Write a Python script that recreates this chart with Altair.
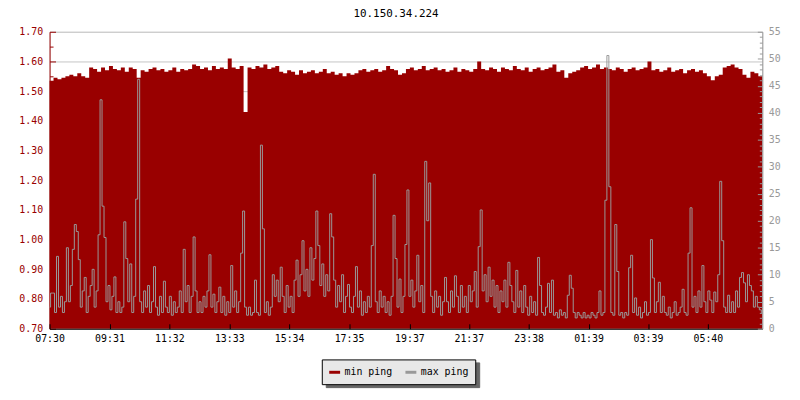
import altair as alt
import pandas as pd

title_text = "10.150.34.224"
span_minutes = 1440
x_tick_minutes = [0, 121, 242, 363, 484, 605, 727, 847, 968, 1089, 1209, 1330]
x_tick_labels = ["07:30", "09:31", "11:32", "13:33", "15:34", "17:35",
                 "19:37", "21:37", "23:38", "01:39", "03:39", "05:40"]
series_names = ["min ping", "max ping"]
series_colors = ["#990000", "#999999"]
left_ticks = [round(0.70 + 0.05 * k, 2) for k in range(21)]
right_ticks = list(range(0, 56))

min_ping = [
    1.535, 1.545, 1.54, 1.545, 1.55, 1.555, 1.55, 1.56, 1.55, 1.545,
    1.58, 1.575, 1.565, 1.58, 1.57, 1.585, 1.575, 1.57, 1.58, 1.565,
    1.58, 1.575, 1.545, 1.57, 1.565, 1.575, 1.58, 1.57, 1.575, 1.565,
    1.57, 1.58, 1.565, 1.575, 1.57, 1.575, 1.59, 1.585, 1.575, 1.58,
    1.57, 1.585, 1.575, 1.58, 1.575, 1.61, 1.58, 1.575, 1.585, 1.43,
    1.58, 1.575, 1.585, 1.58, 1.59, 1.575, 1.58, 1.585, 1.565, 1.56,
    1.57, 1.565, 1.555, 1.57, 1.56, 1.565, 1.57, 1.56, 1.565, 1.575,
    1.56, 1.565, 1.555, 1.56, 1.55, 1.56, 1.555, 1.56, 1.57, 1.575,
    1.565, 1.57, 1.575, 1.565, 1.57, 1.585, 1.575, 1.57, 1.555, 1.56,
    1.575, 1.58, 1.57, 1.575, 1.585, 1.57, 1.575, 1.58, 1.57, 1.575,
    1.565, 1.57, 1.58, 1.565, 1.575, 1.57, 1.565, 1.575, 1.60, 1.575,
    1.57, 1.58, 1.575, 1.565, 1.58, 1.575, 1.57, 1.585, 1.575, 1.57,
    1.58, 1.565, 1.575, 1.58, 1.57, 1.575, 1.58, 1.59, 1.565, 1.57,
    1.545, 1.56, 1.565, 1.57, 1.58, 1.585, 1.575, 1.58, 1.59, 1.575,
    1.58, 1.575, 1.57, 1.58, 1.575, 1.565, 1.575, 1.58, 1.57, 1.575,
    1.58, 1.60, 1.57, 1.575, 1.565, 1.57, 1.58, 1.565, 1.57, 1.575,
    1.56, 1.57, 1.575, 1.565, 1.57, 1.56, 1.55, 1.537, 1.55, 1.555,
    1.58, 1.585, 1.59, 1.58, 1.575, 1.555, 1.545, 1.565, 1.56, 1.55,
    1.545,
]

max_ping = [
    4, 6.6, 6.6, 3, 13.4, 4, 6, 3, 5, 15,
    5, 8, 14.7, 19.3, 18, 12.8, 4, 7, 9.5, 3,
    6, 8, 11, 4, 7, 17.4, 42.4, 22.7, 16.9, 5,
    8, 3.5, 6, 9.6, 3, 5, 3, 4, 19.8, 13,
    5, 12, 3, 6, 24, 46.2, 5, 3, 7, 4,
    8, 3, 5, 11.5, 4, 2.5, 6, 3, 8.8, 4,
    3, 6, 2.5, 5, 3, 4, 7, 3, 14.7, 5,
    8, 3, 6, 17, 7, 3, 5, 3, 6, 4,
    7, 13.7, 4, 6.4, 3, 5, 7.7, 3, 6, 2.5,
    5, 3, 11.7, 4, 7, 3, 5, 14, 21.8, 4,
    2.5, 4, 2.5, 3, 9, 3, 2.5, 34, 18.5, 3,
    5, 2.5, 4, 10, 6, 9, 5, 11.4, 6, 3,
    8, 4, 6, 3, 9, 12.7, 6, 10, 16.3, 7,
    11, 6, 15, 9, 13, 21.8, 15.4, 8, 12, 6,
    10, 7, 21.3, 17, 9, 4, 8, 5, 10, 3,
    6, 8.2, 4, 3, 6, 11.5, 4, 7, 2.5, 5,
    3, 6, 4, 15.4, 28.6, 5, 3, 7, 4, 6,
    3, 5, 2.5, 6, 21, 13, 4, 9.2, 3, 6,
    15.6, 25.7, 6, 9, 4, 7, 13.6, 5, 8, 3,
    31, 20, 27, 6, 3, 7, 4, 6, 2.5, 5,
    9.5, 5, 3, 7, 4, 9.8, 6, 3, 8, 4,
    6, 3, 8, 5, 7, 10.6, 4, 15.2, 22, 7,
    10, 5, 11.4, 6, 9, 4, 8, 3, 7, 5,
    9, 4, 12.3, 8, 5, 3, 10.8, 4, 7, 3,
    8, 4, 2.5, 6, 3, 5, 2.5, 13.2, 8, 3,
    2.5, 4, 8.4, 3, 9, 2.5, 3, 2, 3.5, 2.5,
    3, 2, 6.2, 9.9, 7.5, 3, 2, 3, 2.5, 2,
    3, 2, 2.5, 2, 3, 2.5, 2, 3, 7, 2.5,
    3, 23.8, 50.6, 26.3, 3, 2.5, 19.3, 10.6, 2.5, 3,
    2, 3, 2.5, 11.3, 13.6, 3, 5.7, 2.5, 4, 2,
    3, 5, 2.5, 3, 16.5, 9.4, 3, 5, 8.6, 3,
    6, 3, 2.5, 4, 2, 3, 5, 2.5, 3, 4,
    7.3, 3, 2.5, 14, 22.4, 4, 6, 3, 7, 4,
    11.7, 5, 3, 7, 5.3, 3, 6.8, 5, 10, 27.3,
    16.3, 4, 3, 6.2, 3, 5, 3, 7, 4, 9.5,
    10.4, 8.5, 5, 10, 8, 7, 4, 6, 4, 3.5,
    3,
]

FONT = "DejaVu Sans Mono"

df_min = pd.DataFrame({
    "t": [i * span_minutes / (len(min_ping) - 1) for i in range(len(min_ping))],
    "v": min_ping,
})
df_max = pd.DataFrame({
    "t": [i * span_minutes / (len(max_ping) - 1) for i in range(len(max_ping))],
    "v": max_ping,
})
df_leg = pd.DataFrame({"t": [0, 0], "v": [1, 1], "series": series_names})
df_shadow = pd.DataFrame({"t": [0, 0], "v": [1, 1], "shadow": series_names})

x_label_expr = ("[" + ",".join("'%s'" % s for s in x_tick_labels) + "][indexof(["
                + ",".join(str(m) for m in x_tick_minutes) + "], datum.value)]")

x_enc = alt.X(
    "t:Q",
    scale=alt.Scale(domain=[0, span_minutes], nice=False, zero=False),
    axis=alt.Axis(
        values=x_tick_minutes, labelExpr=x_label_expr, title=None, grid=False,
        tickSize={"expr": "-5"}, tickColor="#000000", domainColor="#000000",
        labelColor="#000000", labelPadding=10, labelFlush=False,
        labelOverlap=False, zindex=1, labelFont=FONT, labelFontSize=10,
    ),
)

major_left = "round(datum.value * 100) % 10 == 0"
left_axis = alt.Axis(
    orient="left", values=left_ticks, title=None,
    labelExpr="%s ? format(datum.value, '.2f') : ''" % major_left,
    tickSize={"condition": {"test": major_left, "value": -6}, "value": -3.5},
    gridOpacity={"condition": {"test": major_left, "value": 1}, "value": 0},
    grid=True, gridColor="#c4c4c4",
    domainColor="#990000", tickColor="#990000", labelColor="#990000",
    labelPadding=13, labelOverlap=False, labelFlush=False, labelBound=False,
    zindex=0, labelFont=FONT, labelFontSize=10,
)

major_right = "datum.value % 5 == 0"
right_axis = alt.Axis(
    orient="right", values=right_ticks, title=None, grid=False,
    labelExpr="%s ? '' + datum.value : ''" % major_right,
    tickSize={"condition": {"test": major_right, "value": -5}, "value": -3},
    domainColor="#999999", tickColor="#999999", labelColor="#999999",
    labelPadding=11, labelOverlap=False, labelFlush=False, labelBound=False,
    zindex=1, labelFont=FONT, labelFontSize=10,
)

area = alt.Chart(df_min).mark_area(
    interpolate="step-after", color=series_colors[0]
).encode(
    x=x_enc,
    y=alt.Y("v:Q", scale=alt.Scale(domain=[0.7, 1.7], nice=False, zero=False, clamp=True),
            axis=left_axis),
    y2=alt.datum(0.7),
)

line = alt.Chart(df_max).mark_line(
    color=series_colors[1], strokeWidth=1, interpolate="step"
).encode(
    x=alt.X("t:Q"),
    y=alt.Y("v:Q", scale=alt.Scale(domain=[0, 55], nice=False, zero=True, clamp=True),
            axis=right_axis),
)

legend_common = dict(
    title=None, orient="none", direction="horizontal", padding=6,
    cornerRadius=0, symbolType="stroke", symbolSize=121, symbolStrokeWidth=3,
    labelFont=FONT, labelFontSize=10,
)

legend_layer = alt.Chart(df_leg).mark_line(strokeWidth=3).encode(
    x=alt.X("t:Q"),
    y=alt.Y("v:Q", axis=None),
    color=alt.Color(
        "series:N",
        scale=alt.Scale(domain=series_names, range=series_colors),
        legend=alt.Legend(
            legendX=275, legendY=331, fillColor="#e8e8e8", strokeColor="#000000",
            labelColor="#000000", zindex=1, labelOffset=3, columnPadding=6,
            labelExpr="datum.label == 'max ping' ? datum.label + '  ' : datum.label",
            **legend_common,
        ),
    ),
)

shadow_layer = alt.Chart(df_shadow).mark_line(strokeWidth=3, color="#666666").encode(
    x=alt.X("t:Q"),
    y=alt.Y("v:Q", axis=None),
    strokeDash=alt.StrokeDash(
        "shadow:N",
        legend=alt.Legend(
            legendX=279, legendY=334, fillColor="#666666", strokeColor="#666666",
            labelColor="#666666", symbolStrokeColor="#666666", zindex=0,
            labelOffset=0, columnPadding=100, labelExpr="''",
            **legend_common,
        ),
    ),
)

chart = alt.layer(area, line, shadow_layer, legend_layer).resolve_scale(
    y="independent"
).properties(
    width=720, height=300,
    padding={"left": 42, "top": 22, "right": 30, "bottom": 70},
    autosize=alt.AutoSizeParams(type="none"),
    title=alt.TitleParams(
        text=title_text, font=FONT, fontSize=11, fontWeight="normal",
        color="#000000", anchor="middle", frame="group", dx=-10, offset=7,
    ),
).configure_view(stroke=None).configure(background="#ffffff")

chart.save("out.html", embed_options={"renderer": "svg", "actions": False})
